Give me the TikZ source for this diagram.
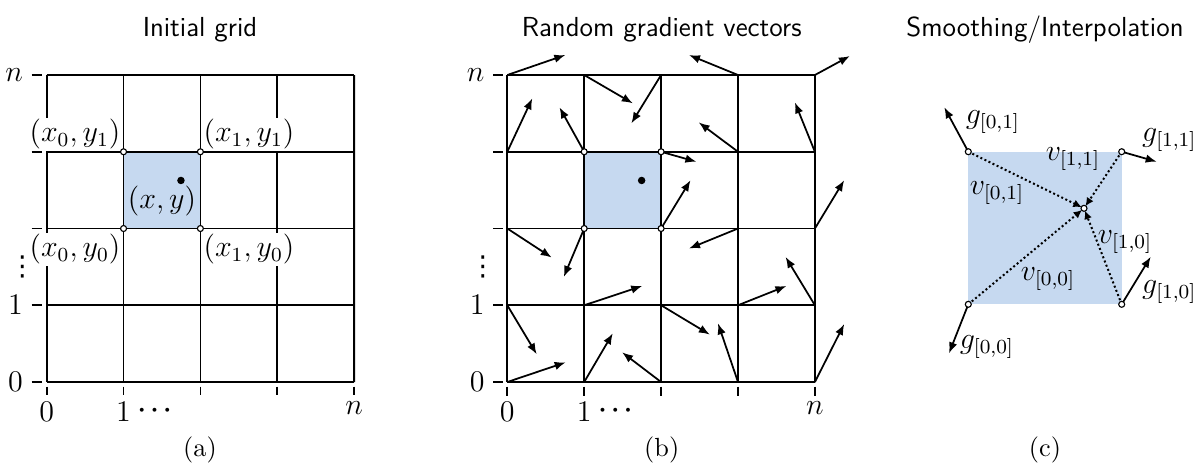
\documentclass[tikz,border=0pt]{standalone}
\usepackage{fontspec}
\newfontfamily\dejavu{DejaVu Sans}
\usetikzlibrary{arrows.meta,calc}
\definecolor{cellblue}{RGB}{198,217,240}
\begin{document}
\begin{tikzpicture}[x=0.4pt,y=-0.4pt,
  gridline/.style={line width=0.72pt},
  tickline/.style={line width=0.72pt},
  vec/.style={line width=0.7pt,-{Latex[length=4.4pt,width=3.4pt]}},
  vvec/.style={line width=0.8pt,densely dotted,-{Latex[length=3.4pt,width=3.2pt]},shorten >=1.0pt},
  corner/.style={circle,draw,fill=white,line width=0.45pt,inner sep=0pt,minimum size=2.4pt},
  pt/.style={circle,fill=black,inner sep=0pt,minimum size=3pt},
  title/.style={font=\fontsize{11}{13}\selectfont\sffamily,anchor=base},
  sub/.style={font=\fontsize{10.5}{12}\selectfont,anchor=base},
  lab/.style={font=\fontsize{12}{14}\selectfont},
  dots/.style={font=\fontsize{10}{12}\selectfont\boldmath\bfseries,inner sep=0pt},
  vdot/.style={font=\fontsize{11}{12}\selectfont\dejavu,inner sep=0pt},
  wlab/.style={font=\fontsize{12}{14}\selectfont,fill=white,inner sep=0.6pt},
  ylab/.style={font=\fontsize{12}{14}\selectfont,anchor=east},
  xlab/.style={font=\fontsize{12}{14}\selectfont,anchor=north,inner sep=0pt}]
\useasboundingbox (0,0) rectangle (1194,463);

% ---------------- (a) ----------------
\node[title] (ta) at (200,36.5) {Initial grid};
\node[sub] (ca) at (200,456) {(a)};
\begin{scope}[shift={(46.7,382)}]
  \foreach \i in {0,...,4}{
    \coordinate (a-\i-0) at ({76.85*\i},0);
    \coordinate (a-\i-4) at ({76.85*\i},-307);
    \coordinate (a-0-\i) at (0,{-76.75*\i});
    \coordinate (a-4-\i) at (307.4,{-76.75*\i});
  }
  \coordinate (aP) at ({76.85*1.747},{-76.75*2.626});
  \fill[cellblue] ({76.85},{-76.75*3}) rectangle ({76.85*2},{-76.75*2});
  \foreach \i in {0,...,4}{
    \draw[gridline] (a-\i-0) -- (a-\i-4);
    \draw[gridline] (a-0-\i) -- (a-4-\i);
    \draw[tickline] ($(a-0-\i)+(-15,0)$) -- ($(a-0-\i)+(-5,0)$);
    \draw[tickline] ($(a-\i-0)+(0,4.7)$) -- ($(a-\i-0)+(0,13)$);
  }
  \node[wlab] (ax0y1) at (28.3,-248) {$(x_0,y_1)$};
  \node[wlab] (ax1y1) at (202.3,-248) {$(x_1,y_1)$};
  \node[wlab] (ax0y0) at (28.3,-133) {$(x_0,y_0)$};
  \node[wlab] (ax1y0) at (202.3,-133) {$(x_1,y_0)$};
  \node[lab] (axy) at (115.3,-181) {$(x,y)$};
  \node[pt] (adot) at (aP) {};
  \foreach \i/\j in {1/2,2/2,1/3,2/3}
    \node[corner] (ac-\i-\j) at ({76.85*\i},{-76.75*\j}) {};
  \node[ylab] (ayn) at (-15,-307) {$n$};
  \node[ylab] (ay1) at (-15,-76.75) {$1$};
  \node[ylab] (ay0) at (-15,0) {$0$};
  \node[vdot] (ayd) at (-24.4,-115) {⋮};
  \node[xlab] (ax0) at (0,19.5) {$0$};
  \node[xlab] (ax1) at (76.85,19.5) {$1$};
  \node[dots] (axd) at (108,29) {$\cdots$};
  \node[xlab] (axn) at (307.4,19.5) {$n$};
\end{scope}

% ---------------- (b) ----------------
\node[title] (tb) at (661.7,36.5) {Random gradient vectors};
\node[sub] (cb) at (661.7,456) {(b)};
\begin{scope}[shift={(507.3,382)}]
  \foreach \i in {0,...,4}{
    \coordinate (b-\i-0) at ({76.9*\i},0);
    \coordinate (b-\i-4) at ({76.9*\i},-307);
    \coordinate (b-0-\i) at (0,{-76.75*\i});
    \coordinate (b-4-\i) at (307.6,{-76.75*\i});
  }
  \fill[cellblue] ({76.9},{-76.75*3}) rectangle ({76.9*2},{-76.75*2});
  \foreach \i in {0,...,4}{
    \draw[gridline] (b-\i-0) -- (b-\i-4);
    \draw[gridline] (b-0-\i) -- (b-4-\i);
    \draw[tickline] ($(b-0-\i)+(-14,0)$) -- ($(b-0-\i)+(-4.3,0)$);
    \draw[tickline] ($(b-\i-0)+(0,4.7)$) -- ($(b-\i-0)+(0,14)$);
  }
  \foreach \i/\j/\dx/\dy in {
    0/4/58/-20, 1/4/48.6/28.3, 2/4/-29.7/48.3, 3/4/-49/-20, 4/4/35/-19,
    0/3/25/-53.4, 1/3/-24.7/-44.4, 2/3/35.3/10, 3/3/-39.3/-29.4, 4/3/-20/-49.4,
    0/2/44.4/29, 1/2/-20.4/48.4, 2/2/29.4/-48.3, 3/2/-49/20, 4/2/29.3/-48.3,
    0/1/29.4/49, 1/1/58/-19.3, 2/1/48.7/29.3, 3/1/48.4/-19.3, 4/1/-29.3/-48.3,
    0/0/58.4/-19.7, 1/0/28.6/-48.7, 2/0/-39/-29.7, 3/0/-20/-58.7, 4/0/29.3/-58}{
    \coordinate (bg-\i-\j) at ({76.9*\i},{-76.75*\j});
    \coordinate (be-\i-\j) at ({76.9*\i+\dx},{-76.75*\j+\dy});
    \draw[vec] (bg-\i-\j) -- (be-\i-\j);
  }
  \node[pt] (bdot) at ({76.9*1.747},{-76.75*2.626}) {};
  \foreach \i/\j in {1/2,2/2,1/3,2/3}
    \node[corner] (bc-\i-\j) at ({76.9*\i},{-76.75*\j}) {};
  \node[ylab] (byn) at (-14,-307) {$n$};
  \node[ylab] (by1) at (-14,-76.75) {$1$};
  \node[ylab] (by0) at (-14,0) {$0$};
  \node[vdot] (byd) at (-24.4,-115) {⋮};
  \node[xlab] (bx0) at (0,19.5) {$0$};
  \node[xlab] (bx1) at (76.9,19.5) {$1$};
  \node[dots] (bxd) at (108,29) {$\cdots$};
  \node[xlab] (bxn) at (307.6,19.5) {$n$};
\end{scope}

% ---------------- (c) ----------------
\node[title] (tc) at (1045,36.5) {Smoothing/Interpolation};
\node[sub] (cc) at (1045,456) {(c)};
\fill[cellblue] (968.3,151.7) rectangle (1121.7,304.3);
\coordinate (cTL) at (968.3,151.7);
\coordinate (cTR) at (1121.7,151.7);
\coordinate (cBL) at (968.3,304.3);
\coordinate (cBR) at (1121.7,304.3);
\coordinate (cP) at (1084,208.3);
\coordinate (gTL) at (944.3,107.3);
\coordinate (gTR) at (1156.7,161.7);
\coordinate (gBL) at (949,353.3);
\coordinate (gBR) at (1150.7,256.7);
\draw[vvec] (cTL) -- (cP);
\draw[vvec] (cTR) -- (cP);
\draw[vvec] (cBL) -- (cP);
\draw[vvec] (cBR) -- (cP);
\draw[vec] (cTL) -- (gTL);
\draw[vec] (cTR) -- (gTR);
\draw[vec] (cBL) -- (gBL);
\draw[vec] (cBR) -- (gBR);
\node[corner] (ccTL) at (cTL) {};
\node[corner] (ccTR) at (cTR) {};
\node[corner] (ccBL) at (cBL) {};
\node[corner] (ccBR) at (cBR) {};
\node[corner] (ccP) at (cP) {};
\node[lab] (g01) at (993,122) {$g_{[0,1]}$};
\node[lab,anchor=west,inner sep=0pt] (g11) at (1141.7,140) {$g_{[1,1]}$};
\node[lab] (v11) at (1073,159) {$v_{[1,1]}$};
\node[lab] (v01) at (997,193) {$v_{[0,1]}$};
\node[lab] (v10) at (1125,242) {$v_{[1,0]}$};
\node[lab] (v00) at (1048,279) {$v_{[0,0]}$};
\node[lab,anchor=west,inner sep=0pt] (g10) at (1141.7,292) {$g_{[1,0]}$};
\node[lab] (g00) at (987,347) {$g_{[0,0]}$};
\end{tikzpicture}
\end{document}
